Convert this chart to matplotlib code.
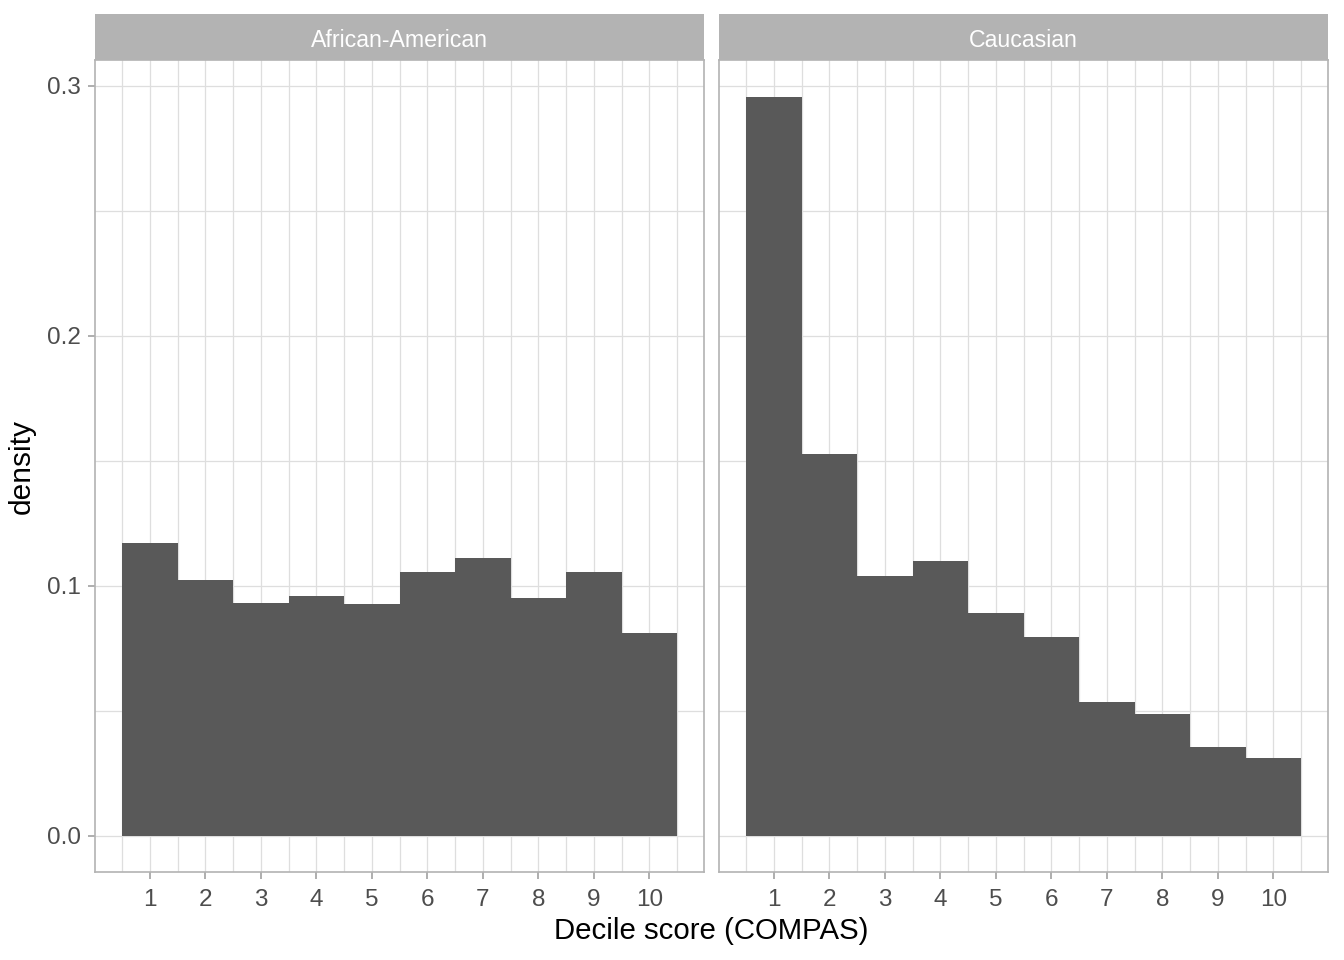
import matplotlib
matplotlib.use("Agg")
import matplotlib.pyplot as plt
import numpy as np

plt.rcParams['font.family'] = ['Liberation Sans', 'DejaVu Sans']

scores = [1, 2, 3, 4, 5, 6, 7, 8, 9, 10]
groups = ["African-American", "Caucasian"]
density_aa = [0.1172, 0.1024, 0.0932, 0.0960, 0.0928, 0.1056, 0.1112, 0.0952, 0.1056, 0.0812]
density_ca = [0.2956, 0.1528, 0.1040, 0.1100, 0.0892, 0.0796, 0.0536, 0.0488, 0.0356, 0.0312]
yticks = [0.0, 0.1, 0.2, 0.3]
ytick_labels = ["0.0", "0.1", "0.2", "0.3"]

fig = plt.figure(figsize=(13.44, 9.6), dpi=100)
W, H = 1344, 960
panels = [(95, 704), (719, 1328)]
top, bottom = 60, 872
strip_top = 14

border = '#b3b3b3'
grid = '#dedede'
tickcol = '#4d4d4d'

for i, (g, vals) in enumerate(zip(groups, [density_aa, density_ca])):
    x0, x1 = panels[i]
    ax = fig.add_axes([x0 / W, (H - bottom) / H, (x1 - x0) / W, (bottom - top) / H])
    ax.bar(scores, vals, width=1.0, color='#595959', zorder=3)
    ax.set_xlim(0.0135, 10.986)
    ax.set_ylim(-0.0144, 0.3104)
    ax.set_xticks(scores)
    ax.set_xticks(np.arange(0.5, 11, 1.0), minor=True)
    ax.set_yticks(yticks)
    ax.set_yticks([0.05, 0.15, 0.25], minor=True)
    ax.grid(True, which='both', color=grid, linewidth=0.9, zorder=0)
    ax.set_axisbelow(True)
    for s in ax.spines.values():
        s.set_color(border)
        s.set_linewidth(1.2)
    ax.tick_params(which='major', length=5, color='#999999', width=1.1,
                   labelsize=17.5, labelcolor=tickcol, pad=5)
    ax.tick_params(axis='x', which='major', pad=7)
    ax.tick_params(which='minor', length=0)
    if i == 0:
        ax.set_yticklabels(ytick_labels)
        ax.set_ylabel('density', fontsize=21.5, color='black', labelpad=8)
    else:
        ax.tick_params(axis='y', which='major', left=False, labelleft=False)
    # strip
    sax = fig.add_axes([x0 / W, (H - top) / H, (x1 - x0) / W, (top - strip_top) / H])
    sax.set_facecolor('#b3b3b3')
    sax.set_xticks([]); sax.set_yticks([])
    for s in sax.spines.values():
        s.set_visible(False)
    sax.text(0.5, 0.43, g, transform=sax.transAxes, ha='center', va='center',
             color='white', fontsize=16.7)

fig.text((95 + 1328) / 2 / W, 1 - 931 / H, 'Decile score (COMPAS)', ha='center', va='center',
         fontsize=21.2, color='black')

fig.savefig('out.png', dpi=100, facecolor='white')
